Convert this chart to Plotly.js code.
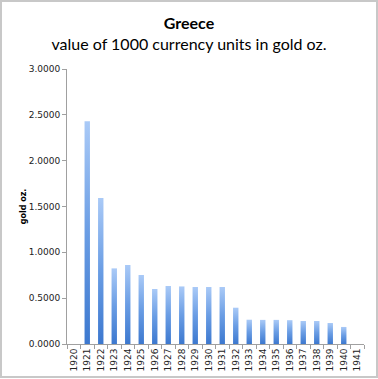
<!DOCTYPE html>
<html>
<head>
<meta charset="utf-8">
<script src="https://cdn.plot.ly/plotly-3.0.1.min.js"></script>
<style>
  html, body { margin: 0; padding: 0; background: #fff; }
  #wrap { position: relative; width: 378px; height: 379px; }
  #chart { width: 378px; height: 379px; }
  #frame { position: absolute; left: 0; top: 0; width: 378px; height: 378px; box-sizing: border-box;
           border: 2px solid #c8c8c8; pointer-events: none; }
</style>
</head>
<body>
<div id="wrap">
  <div id="chart"></div>
  <div id="frame"></div>
</div>
<script>
const years = ['1920','1921','1922','1923','1924','1925','1926','1927','1928','1929','1930',
               '1931','1932','1933','1934','1935','1936','1937','1938','1939','1940','1941'];
const goldOz = [null, 2.43, 1.594, 0.825, 0.862, 0.753, 0.600, 0.633, 0.628, 0.622, 0.622,
                0.622, 0.396, 0.265, 0.263, 0.263, 0.260, 0.251, 0.251, 0.229, 0.186, null];
const yTicks = [0, 0.5, 1, 1.5, 2, 2.5, 3];

const trace = {
  type: 'bar',
  x: years,
  y: goldOz,
  marker: { color: '#6b9fe6', line: { width: 0 } },
  hoverinfo: 'x+y'
};

const layout = {
  width: 378, height: 379,
  paper_bgcolor: '#ffffff', plot_bgcolor: '#ffffff',
  margin: { l: 67, r: 14, t: 69, b: 35 },
  bargap: 0.6,
  showlegend: false,
  title: {
    text: '<b>Greece</b><br>value of 1000 currency units in gold oz.',
    font: { family: 'Lato, "Open Sans", sans-serif', size: 16, color: '#000' },
    x: 0.5, xanchor: 'center', xref: 'container',
    y: 1 - 29/379, yanchor: 'middle', yref: 'container'
  },
  xaxis: {
    type: 'category',
    tickson: 'boundaries',
    ticks: 'outside', ticklen: 4, tickcolor: '#a0a0a0', tickwidth: 1,
    showline: true, linecolor: '#a0a0a0', linewidth: 1,
    showgrid: false, zeroline: false,
    tickangle: -90,
    tickfont: { family: '"DejaVu Sans", Verdana, sans-serif', size: 9, color: '#222' },
    range: [-0.5, 21.5]
  },
  yaxis: {
    range: [0, 3],
    tickvals: yTicks,
    tickformat: '.4f',
    ticks: 'outside', ticklen: 4, tickcolor: '#a0a0a0', tickwidth: 1,
    showline: true, linecolor: '#a0a0a0', linewidth: 1,
    showgrid: false, zeroline: false,
    tickfont: { family: '"DejaVu Sans", Verdana, sans-serif', size: 9, color: '#222' },
    title: { text: '<b>gold oz.</b>', font: { family: '"DejaVu Sans", Verdana, sans-serif', size: 8, color: '#000' }, standoff: 0 }
  }
};

Plotly.newPlot('chart', [trace], layout, { displayModeBar: false, staticPlot: true }).then(function (gd) {
  const svg = gd.querySelector('svg.main-svg');
  const ns = 'http://www.w3.org/2000/svg';
  let defs = svg.querySelector('defs');
  if (!defs) { defs = document.createElementNS(ns, 'defs'); svg.insertBefore(defs, svg.firstChild); }
  const grad = document.createElementNS(ns, 'linearGradient');
  grad.setAttribute('id', 'barGrad');
  grad.setAttribute('x1', '0'); grad.setAttribute('y1', '0');
  grad.setAttribute('x2', '0'); grad.setAttribute('y2', '1');
  [['0', '#aacaf7'], ['0.5', '#6a9de4'], ['1', '#3c78cf']].forEach(function (s) {
    const st = document.createElementNS(ns, 'stop');
    st.setAttribute('offset', s[0]);
    st.setAttribute('stop-color', s[1]);
    grad.appendChild(st);
  });
  defs.appendChild(grad);
  gd.querySelectorAll('.bars .point path').forEach(function (p) {
    p.style.fill = 'url(#barGrad)';
  });
});
</script>
</body>
</html>
